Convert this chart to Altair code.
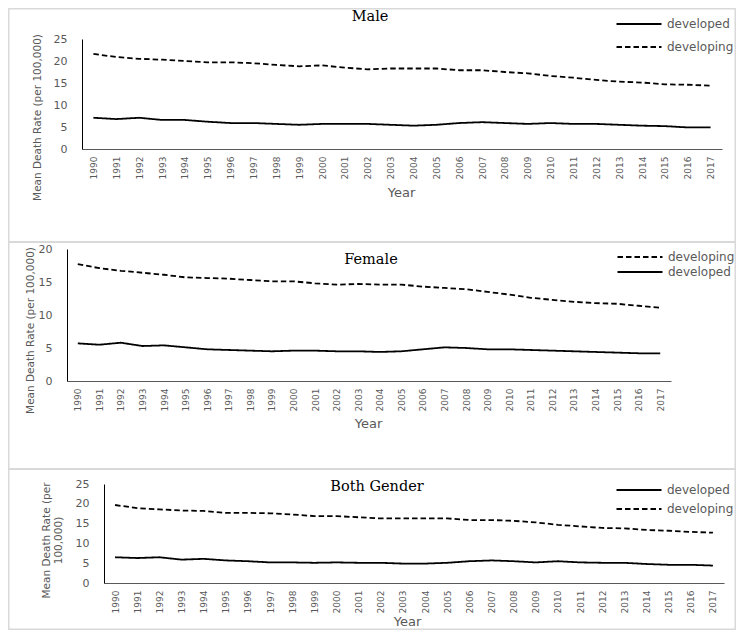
import altair as alt
import pandas as pd

years = [str(y) for y in range(1990, 2018)]

male_developed = [7.1, 6.8, 7.1, 6.6, 6.6, 6.2, 5.9, 5.9, 5.7, 5.5, 5.7, 5.7, 5.7, 5.5,
                  5.3, 5.5, 5.9, 6.1, 5.9, 5.7, 5.9, 5.7, 5.7, 5.5, 5.3, 5.2, 4.9, 4.9]
male_developing = [21.6, 20.9, 20.5, 20.3, 20.0, 19.7, 19.7, 19.5, 19.1, 18.8, 19.0, 18.5, 18.1, 18.3,
                   18.3, 18.3, 17.9, 17.9, 17.5, 17.2, 16.6, 16.2, 15.7, 15.3, 15.1, 14.7, 14.6, 14.4]
female_developed = [5.7, 5.5, 5.8, 5.3, 5.4, 5.1, 4.8, 4.7, 4.6, 4.5, 4.6, 4.6, 4.5, 4.5,
                    4.4, 4.5, 4.8, 5.1, 5.0, 4.8, 4.8, 4.7, 4.6, 4.5, 4.4, 4.3, 4.2, 4.2]
female_developing = [17.7, 17.1, 16.7, 16.4, 16.1, 15.7, 15.6, 15.5, 15.3, 15.1, 15.1, 14.8, 14.6, 14.7,
                     14.6, 14.6, 14.3, 14.1, 13.9, 13.5, 13.1, 12.6, 12.3, 12.0, 11.8, 11.7, 11.4, 11.1]
both_developed = [6.5, 6.3, 6.5, 5.9, 6.1, 5.7, 5.5, 5.2, 5.2, 5.1, 5.2, 5.1, 5.1, 4.9,
                  4.9, 5.1, 5.5, 5.7, 5.5, 5.2, 5.5, 5.2, 5.1, 5.1, 4.8, 4.6, 4.6, 4.4]
both_developing = [19.7, 18.9, 18.6, 18.3, 18.2, 17.7, 17.7, 17.6, 17.3, 16.9, 16.9, 16.6, 16.3, 16.3,
                   16.3, 16.3, 15.9, 15.9, 15.7, 15.3, 14.7, 14.3, 13.9, 13.8, 13.4, 13.2, 12.9, 12.7]

series_names = ["developed", "developing"]
panel_titles = ["Male", "Female", "Both Gender"]

W, H = 728, 622
FONT = "DejaVu Sans"
GREY = "#595959"
DASH = {"developed": [1, 0], "developing": [5.5, 3]}
# legend symbol: a horizontal stroke path, scaled by sqrt(size)/2
SYM_PATH = "M-5,0H5"
SYM_SIZE = 81          # sqrt = 9 -> path length 45
SYM_HALF = 22.5


def panel_df(developed, developing):
    return pd.DataFrame({
        "Year": years * 2,
        "Rate": developed + developing,
        "Series": [series_names[0]] * len(years) + [series_names[1]] * len(years),
    })


def panel(df, title, xr, yr, ymax, yaxis_x, xaxis_y, ytitle, ytitle_xy, xtitle_xy,
          title_xy, legend_xy, order, row_pad):
    lines = alt.Chart(df).mark_line(color="black", strokeWidth=1.8).encode(
        x=alt.X("Year:O", sort=years,
                scale=alt.Scale(type="point", padding=0.5, range=list(xr)),
                axis=alt.Axis(orient="bottom", offset=xaxis_y - H, labelAngle=270,
                              labelFont=FONT, labelFontSize=9, labelColor=GREY,
                              labelPadding=7, ticks=False, tickSize=0, grid=False,
                              domainColor=GREY, domainWidth=1, labelOverlap=False,
                              title="Year", titleFont=FONT, titleFontSize=13,
                              titleFontWeight="normal", titleColor=GREY,
                              titleX=xtitle_xy[0], titleY=xtitle_xy[1] - xaxis_y,
                              titleAlign="center", titleBaseline="middle")),
        y=alt.Y("Rate:Q",
                scale=alt.Scale(domain=[0, ymax], range=list(yr), nice=False, zero=True),
                axis=alt.Axis(orient="left", offset=-yaxis_x, values=list(range(0, ymax + 1, 5)),
                              labelFont=FONT, labelFontSize=11, labelColor=GREY,
                              labelPadding=15, ticks=False, tickSize=0, grid=False,
                              domainColor="black", domainWidth=1,
                              title=ytitle, titleFont=FONT, titleFontSize=10.5,
                              titleFontWeight="normal", titleColor=GREY, titleAngle=270,
                              titleX=ytitle_xy[0] - yaxis_x, titleY=ytitle_xy[1],
                              titleAlign="center", titleBaseline="middle")),
        strokeDash=alt.StrokeDash(
            "Series:N",
            scale=alt.Scale(domain=order, range=[DASH[s] for s in order]),
            legend=alt.Legend(orient="none", legendX=legend_xy[0] + SYM_HALF - 4.5,
                              legendY=legend_xy[1],
                              title=None, symbolType=SYM_PATH, symbolSize=SYM_SIZE,
                              symbolStrokeWidth=1.8, symbolStrokeColor="black",
                              labelFont=FONT, labelFontSize=12, labelColor=GREY,
                              labelOffset=SYM_HALF - 4.5 + 4, rowPadding=row_pad, padding=0)),
    )
    ttl = alt.Chart(pd.DataFrame({"t": [title]})).mark_text(
        font="DejaVu Serif", fontSize=14.5, color="black", align="center", baseline="middle"
    ).encode(text="t:N", x=alt.value(title_xy[0]), y=alt.value(title_xy[1]))
    return [lines, ttl]


p1 = panel(panel_df(male_developed, male_developing), panel_titles[0],
           xr=(74, 714), yr=(141, 31), ymax=25, yaxis_x=74, xaxis_y=141,
           ytitle="Mean Death Rate (per 100,000)", ytitle_xy=(29, 109),
           xtitle_xy=(393, 184), title_xy=(362, 9), legend_xy=(607, 10),
           order=["developed", "developing"], row_pad=11)
p2 = panel(panel_df(female_developed, female_developing), panel_titles[1],
           xr=(59, 663), yr=(373, 241), ymax=20, yaxis_x=59, xaxis_y=373,
           ytitle="Mean Death Rate (per 100,000)", ytitle_xy=(22, 322),
           xtitle_xy=(360, 415), title_xy=(363, 252), legend_xy=(608, 243),
           order=["developing", "developed"], row_pad=3)
p3 = panel(panel_df(both_developed, both_developing), panel_titles[2],
           xr=(96, 716), yr=(575, 476), ymax=25, yaxis_x=96, xaxis_y=575,
           ytitle=["Mean Death Rate (per", "100,000)"], ytitle_xy=(38, 532),
           xtitle_xy=(399, 613), title_xy=(369, 479), legend_xy=(607, 476),
           order=["developed", "developing"], row_pad=7)

frame_src = pd.DataFrame({"k": [0]})
FRAME = "#d9d9d9"
frame = [
    alt.Chart(frame_src).mark_rule(color=FRAME, strokeWidth=1.5).encode(
        x=alt.value(0), x2=alt.value(W), y=alt.value(0.75)),
    alt.Chart(frame_src).mark_rule(color=FRAME, strokeWidth=1.5).encode(
        x=alt.value(0), x2=alt.value(W), y=alt.value(H - 0.75)),
    alt.Chart(frame_src).mark_rule(color=FRAME, strokeWidth=1.5).encode(
        x=alt.value(0.75), y=alt.value(0), y2=alt.value(H)),
    alt.Chart(frame_src).mark_rule(color=FRAME, strokeWidth=1.5).encode(
        x=alt.value(W - 0.75), y=alt.value(0), y2=alt.value(H)),
    alt.Chart(frame_src).mark_rule(color=FRAME, strokeWidth=2).encode(
        x=alt.value(0), x2=alt.value(W), y=alt.value(234)),
    alt.Chart(frame_src).mark_rule(color=FRAME, strokeWidth=2).encode(
        x=alt.value(0), x2=alt.value(W), y=alt.value(461)),
]

chart = alt.layer(*(frame + p1 + p2 + p3)).resolve_scale(
    x="independent", y="independent", strokeDash="independent"
).resolve_axis(
    x="independent", y="independent"
).resolve_legend(
    strokeDash="independent"
).properties(
    width=W, height=H, padding=0, background="white",
    autosize=alt.AutoSizeParams(type="none")
).configure_view(stroke=None)

chart.save("out.html", embed_options={"renderer": "svg", "actions": False})
